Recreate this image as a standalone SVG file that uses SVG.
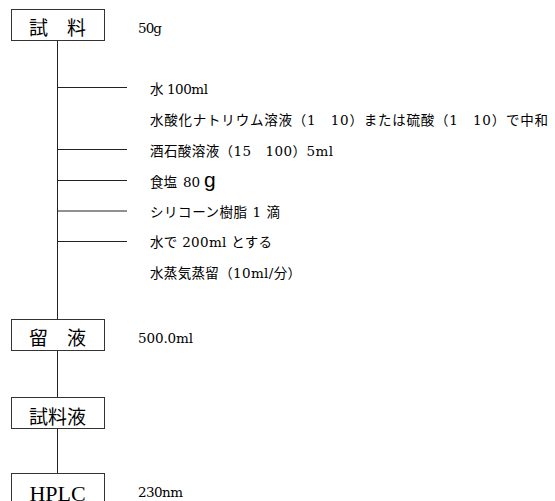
<svg xmlns="http://www.w3.org/2000/svg" width="555" height="501" viewBox="0 0 555 501">
<style>
.box{fill:#fff;stroke:#333;stroke-width:1}
.ln{stroke:#222;stroke-width:1;fill:none}
.bt{font-family:"Noto Sans CJK JP",sans-serif;font-size:19px;fill:#000;text-anchor:middle}
.t{font-family:"DejaVu Serif","Noto Sans CJK JP",serif;font-size:13.5px;fill:#000}
.h{font-family:"Liberation Serif",serif;font-size:22px;fill:#000;text-anchor:middle}
</style>
<rect width="555" height="501" fill="#fff"/>
<g id="connectors">
<line class="ln" x1="57.5" y1="40" x2="57.5" y2="319"/>
<line class="ln" x1="57.5" y1="350" x2="57.5" y2="397"/>
<line class="ln" x1="57.5" y1="428" x2="57.5" y2="473"/>
<line class="ln" x1="57" y1="87.5" x2="127" y2="87.5"/>
<line class="ln" x1="57" y1="149.5" x2="127" y2="149.5"/>
<line class="ln" x1="57" y1="180.5" x2="127" y2="180.5"/>
<line class="ln" x1="57" y1="211" x2="127" y2="211"/>
<line class="ln" x1="57" y1="241.5" x2="127" y2="241.5"/>
</g>
<g id="node-sample">
<rect class="box" x="11.5" y="9.5" width="93" height="31"/>
<text class="bt" x="57.5" y="35">試　料</text>
<text class="t" x="138" y="33" textLength="24" lengthAdjust="spacing">50g</text>
</g>
<g id="steps">
<text class="t" x="150" y="94" textLength="58" lengthAdjust="spacing">水 100ml</text>
<text class="t" x="150" y="125" textLength="398" lengthAdjust="spacing">水酸化ナトリウム溶液（1　10）または硫酸（1　10）で中和</text>
<text class="t" x="150" y="156" textLength="183" lengthAdjust="spacing">酒石酸溶液（15　100）5ml</text>
<text class="t" x="150" y="187">食塩<tspan x="183">80</tspan><tspan x="204" style="font-family:'Liberation Sans',sans-serif;font-size:21px">g</tspan></text>
<text class="t" x="150" y="217" textLength="130" lengthAdjust="spacing">シリコーン樹脂 1 滴</text>
<text class="t" x="150" y="247" textLength="122" lengthAdjust="spacing">水で 200ml とする</text>
<text class="t" x="150" y="278" textLength="151" lengthAdjust="spacing">水蒸気蒸留（10ml/分）</text>
</g>
<g id="node-distillate">
<rect class="box" x="11.5" y="319.5" width="93" height="31"/>
<text class="bt" x="57.5" y="345">留　液</text>
<text class="t" x="138" y="343" textLength="55" lengthAdjust="spacing">500.0ml</text>
</g>
<g id="node-solution">
<rect class="box" x="11.5" y="397.5" width="93" height="31"/>
<text class="bt" x="57.5" y="424">試料液</text>
</g>
<g id="node-hplc">
<rect class="box" x="11.5" y="473.5" width="93" height="40"/>
<text class="h" x="57.5" y="501">HPLC</text>
<text class="t" x="138" y="497" textLength="45" lengthAdjust="spacing">230nm</text>
</g>
</svg>
